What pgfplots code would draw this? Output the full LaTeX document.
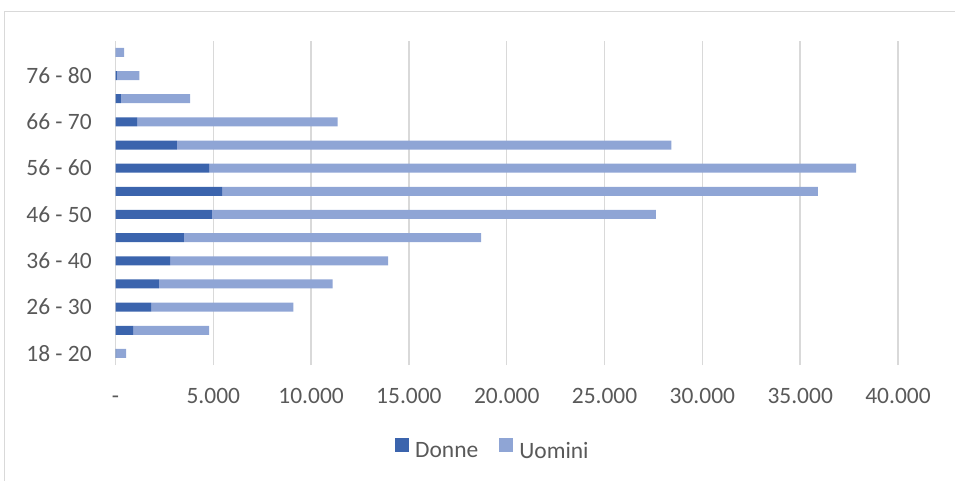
\documentclass[border=0pt]{standalone}
\usepackage{pgfplots}
\usepackage{pgfplotstable}
\pgfplotsset{compat=1.18}
\usepackage{fontspec}
\setmainfont{Carlito}
\definecolor{donne}{HTML}{3B64AD}
\definecolor{uomini}{HTML}{8FA5D5}
\definecolor{txt}{HTML}{595959}
\definecolor{gridc}{HTML}{D9D9D9}

\pgfplotstableread{
idx donne uomini
0 50 490
1 900 3880
2 1820 7270
3 2220 8880
4 2790 11140
5 3500 15190
6 4930 22690
7 5450 30450
8 4780 33080
9 3140 25280
10 1100 10260
11 280 3530
12 70 1150
13 10 425
}\data

\begin{document}
\begin{tikzpicture}
\useasboundingbox (0,0) rectangle (716.25pt,-360.75pt);
\draw[gridc, line width=0.9pt] (3.2pt,-420pt) -- (3.2pt,-8.6pt) -- (760pt,-8.6pt);
\begin{axis}[
  at={(86.625pt,-273.75pt)}, anchor=south west,
  scale only axis, width=586.875pt, height=243.15pt,
  xbar stacked, bar width=6.75pt,
  xmin=0, xmax=40000, ymin=-0.5, ymax=13.5,
  scaled x ticks=false,
  xtick={0,5000,...,40000},
  xticklabels={-\hspace{10pt},5.000,10.000,15.000,20.000,25.000,30.000,35.000,40.000},
  ytick={0,2,...,12},
  yticklabels={18 - 20,26 - 30,36 - 40,46 - 50,56 - 60,66 - 70,76 - 80},
  axis line style={draw=none},
  major tick length=0pt,
  xmajorgrids,
  major grid style={gridc, line width=1.1pt},
  ticklabel style={font=\fontsize{17.6pt}{20pt}\selectfont, text=txt, inner sep=0pt},
  xticklabel style={anchor=base, yshift=-28.5pt},
  yticklabel style={anchor=base east, yshift=-5.8pt, xshift=-17.6pt},
  legend columns=2,
  legend style={draw=none, fill=none, at={(0.481,-0.26)}, anchor=center,
    font=\fontsize{17.6pt}{20pt}\selectfont, text=txt,
    nodes={inner sep=0pt}, column sep=4.5pt,
    /tikz/every even column/.append style={column sep=15.75pt}},
  legend image code/.code={\fill[#1] (0pt,-0.5pt) rectangle (10.5pt,10pt);},
]
\addplot[fill=donne, draw=none] table[x=donne, y=idx]{\data};
\addplot[fill=uomini, draw=none] table[x=uomini, y=idx]{\data};
\legend{Donne, Uomini}
\end{axis}
\end{tikzpicture}
\end{document}
